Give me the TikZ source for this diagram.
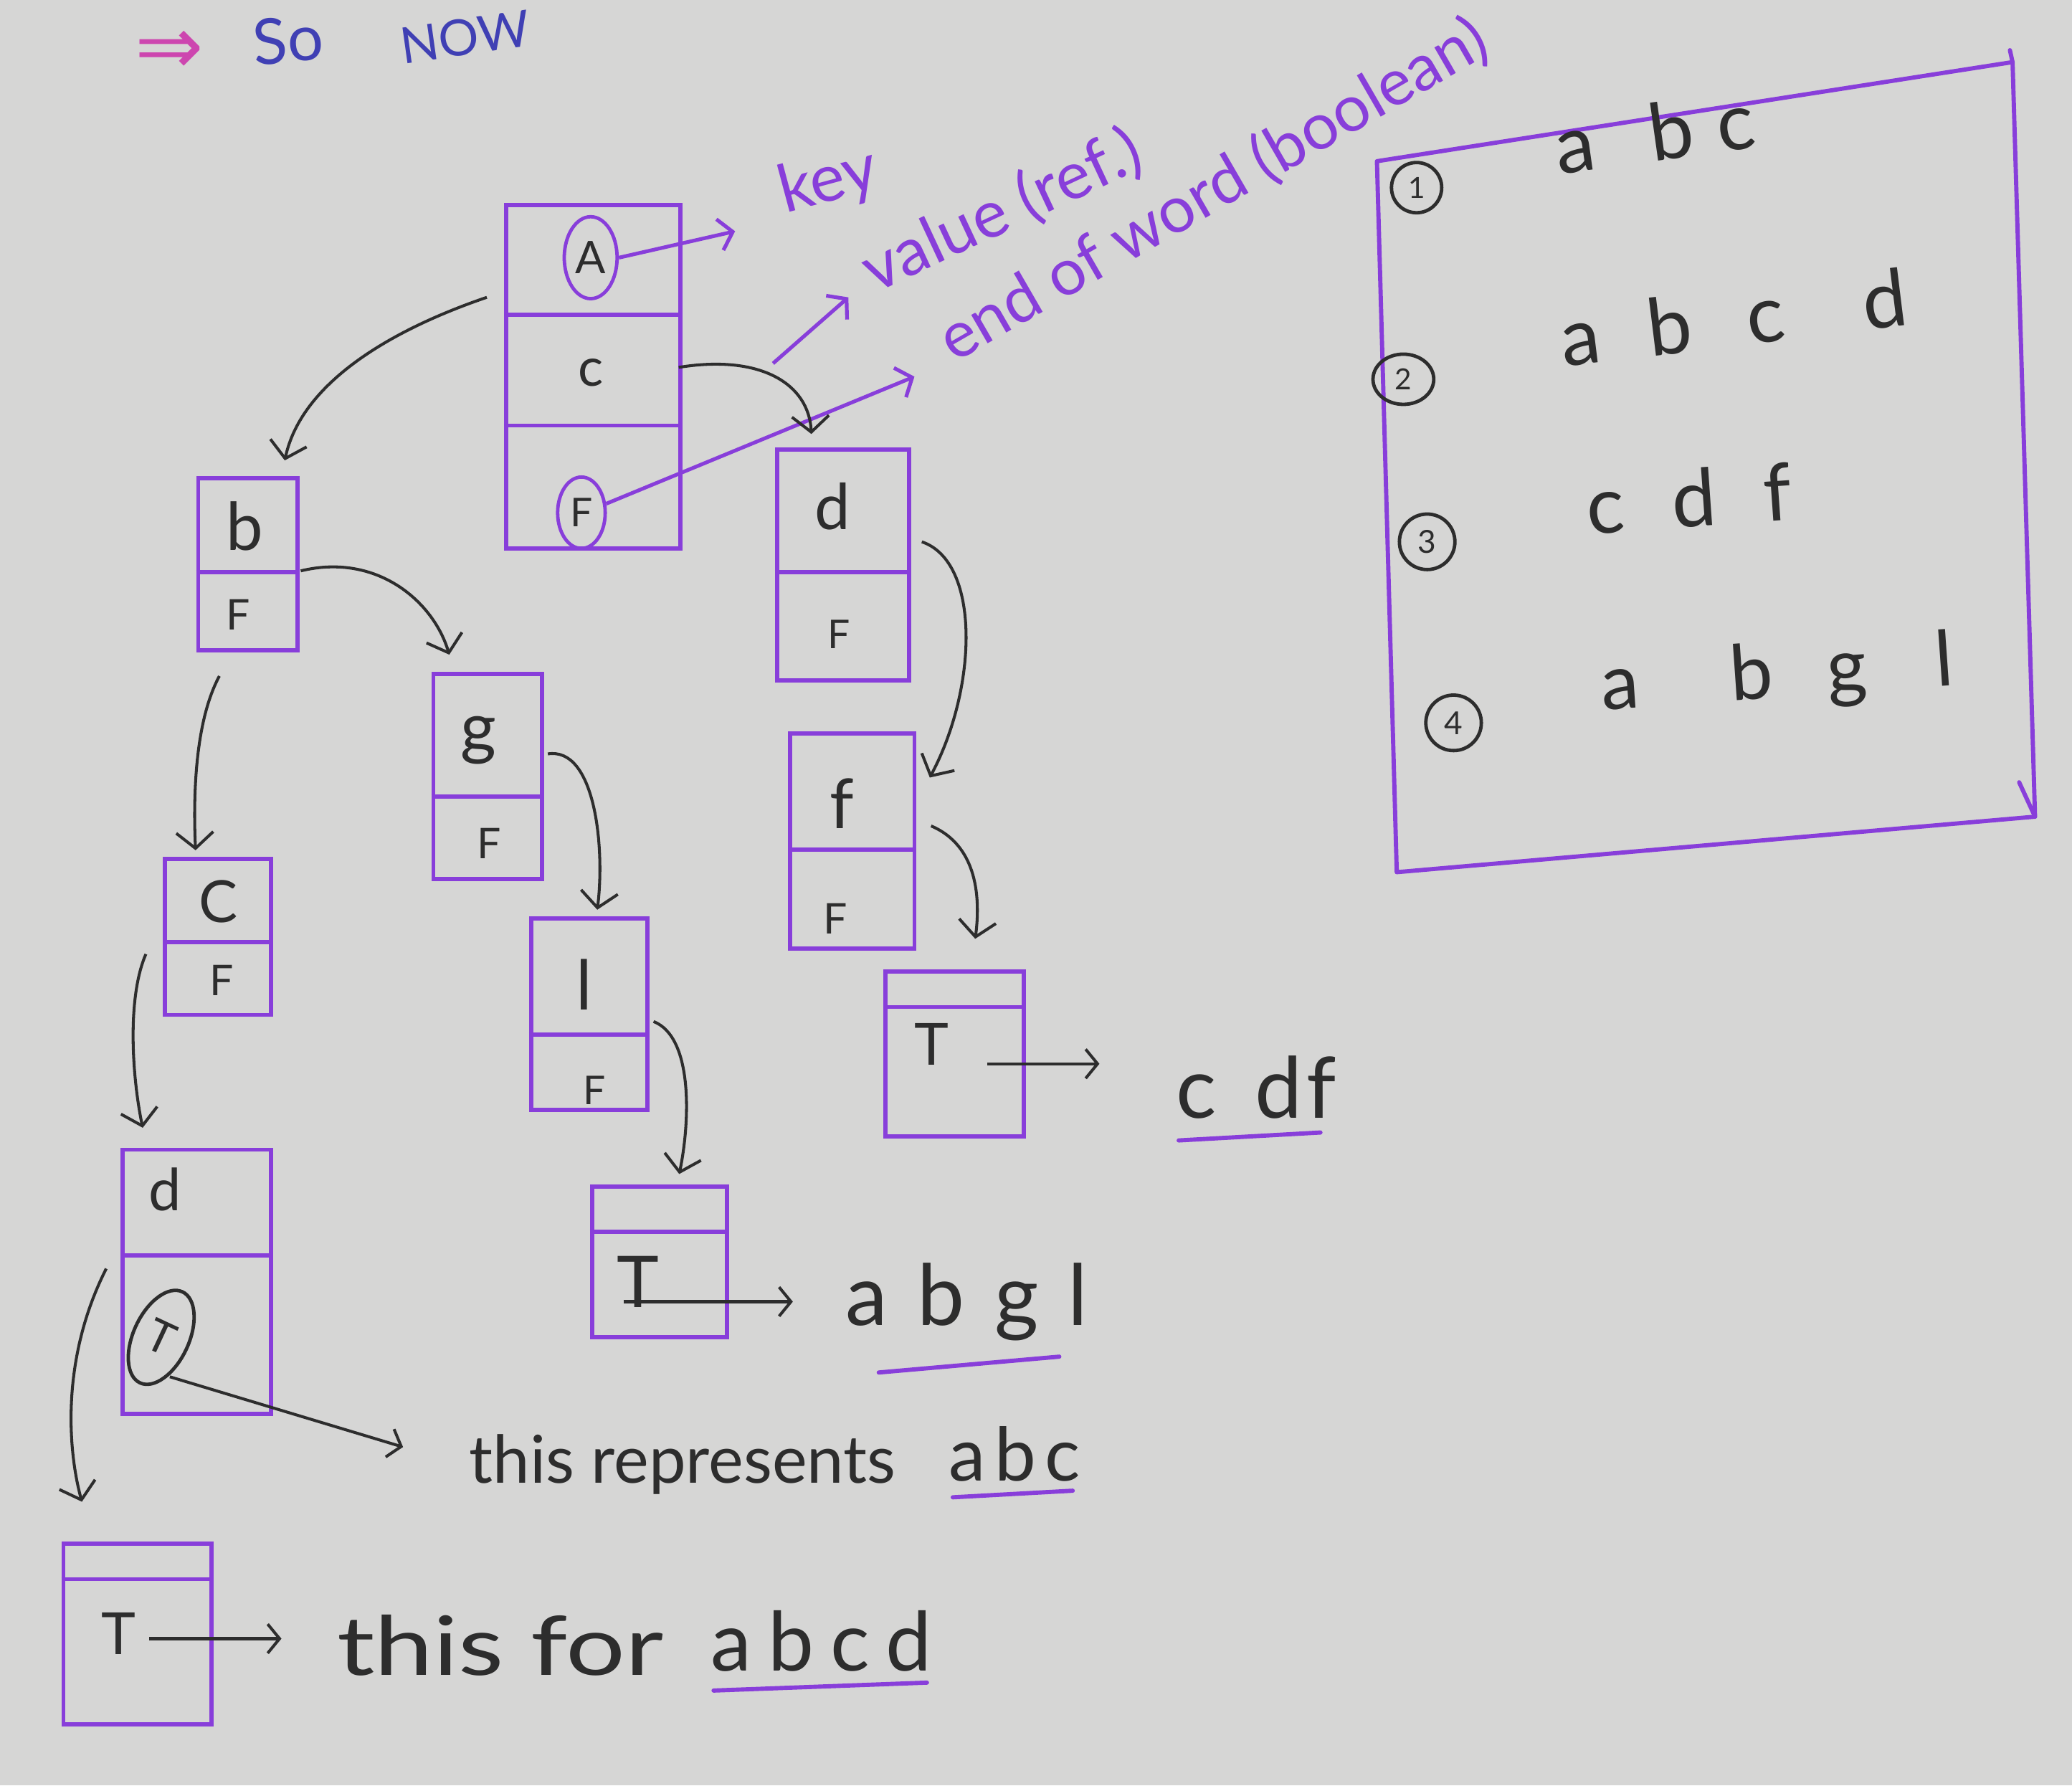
\documentclass[tikz,border=0pt]{standalone}
\usepackage{fontspec}
\setmainfont{Lato}
\newfontfamily\symfont{DejaVu Sans}
\usetikzlibrary{arrows.meta,calc,shapes.geometric}
\definecolor{ink}{RGB}{45,45,45}
\definecolor{vio}{RGB}{136,62,218}
\definecolor{blueink}{RGB}{64,64,180}
\definecolor{mag}{RGB}{205,70,175}
\definecolor{paper}{RGB}{214,214,213}
\newcommand\myfs[1]{\fontsize{#1}{#1}\selectfont}
\newcommand\divline[2]{\draw[divl] (#1.west |- 0,#2) -- (#1.east |- 0,#2);}
\begin{document}
\begin{tikzpicture}[x=1pt,y=-1pt,
  tbox/.style={draw=vio,line width=3.2pt,inner sep=0pt},
  divl/.style={draw=vio,line width=3.2pt},
  conn/.style={draw=ink,line width=2.2pt,-{Straight Barb[length=12pt,width=28pt,line width=2.2pt]}},
  sarr/.style={draw=ink,line width=2.2pt,-{Straight Barb[length=9pt,width=22pt,line width=2.2pt]}},
  varr/.style={draw=vio,line width=2.8pt,-{Straight Barb[length=10pt,width=24pt,line width=2.8pt]}},
  ulin/.style={draw=vio,line width=3.2pt,line cap=round},
  ltr/.style={text=ink,inner sep=0pt},
  vtxt/.style={text=vio,inner sep=0pt},
  circ/.style={ellipse,draw=#1,line width=2.6pt,inner sep=0pt,text=ink},
]
\fill[paper] (0,0) rectangle (1568,1351);
\useasboundingbox (0,0) rectangle (1568,1351);

% heading
\node[text=mag,inner sep=0pt,font=\symfont\myfs{62}] (dbl) at (128,40) {⇒};
\node[text=blueink,inner sep=0pt,font=\myfs{48},rotate=5] (so) at (218,30) {So};
\node[text=blueink,inner sep=0pt,font=\myfs{38},rotate=8] (now) at (352,28) {NOW};

% root node
\node[tbox,minimum width=132pt,minimum height=260pt] (root) at (449,285) {};
\divline{root}{238}
\divline{root}{322}
\node[circ=vio,minimum width=40pt,minimum height=62pt,font=\myfs{34}] (rootA) at (447,195) {A};
\node[ltr,font=\myfs{40}] (rootc) at (447,282) {c};
\node[circ=vio,minimum width=36pt,minimum height=54pt,font=\myfs{30}] (rootF) at (440,388) {F};

% annotations
\node[vtxt,font=\myfs{50},rotate=15] (key) at (627,138) {key};
\draw[varr] (rootA.east) -- ($(rootA.east)+(88,-20)$);
\node[vtxt,font=\myfs{50},rotate=25,anchor=base west] (val) at (662,222) {value (ref.)};
\draw[varr] ($(val.base west)+(-77,53)$) -- ($(val.base west)+(-20,3)$);
\node[vtxt,font=\myfs{49},rotate=30,anchor=base west] (eow) at (722,275) {end of word (boolean)};
\draw[varr] (rootF.20) -- ($(eow.base west)+(-30,10)$);

% word list panel
\draw[vio,line width=3.2pt,line join=round] (1042,122) -- (1523,47) -- (1540,618) -- (1057,660) -- cycle;
\draw[vio,line width=3.2pt,line cap=round] (1523,47) -- (1521,38);
\draw[vio,line width=3.2pt,line cap=round] (1540,618) -- (1528,592);
\node[circ=ink,minimum width=38pt,minimum height=38pt,font=\myfs{22}] (n1) at (1072,142) {1};
\node[ltr,font=\myfs{60},rotate=8] (w1) at (1252,100) {a\hspace{0.7em}b\hspace{0.3em}c};
\node[circ=ink,minimum width=46pt,minimum height=38pt,font=\myfs{22}] (n2) at (1062,287) {2};
\node[ltr,font=\myfs{60},rotate=7] (w2) at (1312,240) {a\hspace{0.6em}b\hspace{0.7em}c\hspace{1.0em}d};
\node[circ=ink,minimum width=42pt,minimum height=42pt,font=\myfs{24}] (n3) at (1080,410) {3};
\node[ltr,font=\myfs{60},rotate=4] (w3) at (1278,377) {c\hspace{0.6em}d\hspace{0.6em}f};
\node[circ=ink,minimum width=42pt,minimum height=42pt,font=\myfs{24}] (n4) at (1100,547) {4};
\node[ltr,font=\myfs{58},rotate=4] (w4) at (1345,512) {a\hspace{1.2em}b\hspace{0.7em}g\hspace{0.9em}l};

% trie nodes
\node[tbox,minimum width=75pt,minimum height=130pt] (b) at (187.5,427) {};
\divline{b}{433}
\node[ltr,font=\myfs{50}] (bk) at (185,398) {b};
\node[ltr,font=\myfs{32}] (bf) at (180,465) {F};

\node[tbox,minimum width=82pt,minimum height=155pt] (g) at (369,587.5) {};
\divline{g}{603}
\node[ltr,font=\myfs{52}] (gk) at (362,560) {g};
\node[ltr,font=\myfs{32}] (gf) at (370,638) {F};

\node[tbox,minimum width=80pt,minimum height=118pt] (c) at (165,709) {};
\divline{c}{713}
\node[ltr,font=\myfs{44}] (ck) at (165,682) {C};
\node[ltr,font=\myfs{32}] (cf) at (168,742) {F};

\node[tbox,minimum width=88pt,minimum height=145pt] (l) at (446,767.5) {};
\divline{l}{783}
\node[ltr,font=\myfs{52}] (lk) at (442,745) {l};
\node[ltr,font=\myfs{30}] (lf) at (450,825) {F};

\node[tbox,minimum width=112pt,minimum height=200pt] (dL) at (149,970) {};
\divline{dL}{950}
\node[ltr,font=\myfs{44}] (dLk) at (125,900) {d};
\node[circ=ink,minimum width=42pt,minimum height=76pt,rotate=-25,font=\myfs{34}] (dLT) at (122,1012) {T};

\node[tbox,minimum width=112pt,minimum height=137pt] (TL) at (104,1236.5) {};
\divline{TL}{1195}
\node[ltr,font=\myfs{44}] (TLk) at (90,1236) {T};

\node[tbox,minimum width=102pt,minimum height=114pt] (TM) at (499,955) {};
\divline{TM}{932}
\node[ltr,font=\myfs{54}] (TMk) at (483,970) {T};

\node[tbox,minimum width=100pt,minimum height=175pt] (dR) at (638,427.5) {};
\divline{dR}{433}
\node[ltr,font=\myfs{48}] (dRk) at (630,383) {d};
\node[ltr,font=\myfs{30}] (dRf) at (635,480) {F};

\node[tbox,minimum width=94pt,minimum height=163pt] (f) at (645,636.5) {};
\divline{f}{643}
\node[ltr,font=\myfs{52}] (fk) at (637,608) {f};
\node[ltr,font=\myfs{32}] (ff) at (632,695) {F};

\node[tbox,minimum width=105pt,minimum height=125pt] (TR) at (722.5,797.5) {};
\divline{TR}{762}
\node[ltr,font=\myfs{44}] (TRk) at (705,790) {T};

% connectors between trie nodes
\draw[conn] ($(root.west)+(-13,-60)$) .. controls (295,250) and (228,290) .. ($(b.north)+(28,-12)$);
\draw[conn] ($(root.east)+(-3,-7)$) .. controls (575,268) and (612,290) .. ($(dR.north)+(-24,-10)$);
\draw[conn] ($(b.east)+(1,5)$) .. controls (285,418) and (328,455) .. ($(g.north)+(-29,-13)$);
\draw[conn] ($(b.south)+(-21.5,18)$) .. controls (148,545) and (146,600) .. ($(c.north)+(-17,-5)$);
\draw[conn] ($(c.west)+(-13,13)$) .. controls (96,755) and (100,815) .. ($(dL.north)+(-41,-15)$);
\draw[conn] ($(dL.west)+(-11,-10)$) .. controls (45,1030) and (52,1100) .. ($(TL.north)+(-42,-30)$);
\draw[conn] ($(g.east)+(3,-17)$) .. controls (450,565) and (458,640) .. ($(l.north)+(6,-5)$);
\draw[conn] ($(l.east)+(3,5.5)$) .. controls (525,785) and (522,850) .. ($(TM.north)+(15,-8)$);
\draw[conn] ($(dR.east)+(8,-17.5)$) .. controls (742,425) and (740,520) .. ($(f.north east)+(10,35)$);
\draw[conn] ($(f.east)+(11,-11.5)$) .. controls (740,640) and (742,680) .. ($(TR.north)+(15.5,-23)$);

% word labels
\node[ltr,font=\myfs{64},anchor=west] (cdf) at (890,823) {c\hspace{0.45em}d\hspace{0.05em}f};
\draw[ulin] ($(cdf.south west)+(2,16)$) -- ($(cdf.south east)+(-12,10)$);
\draw[sarr] ($(TR.center)+(24.5,7.5)$) -- ($(cdf.west)+(-58,-18)$);

\node[ltr,font=\myfs{64},anchor=west] (abgl) at (640,985) {a\hspace{0.35em}b\hspace{0.35em}g\hspace{0.35em}l};
\draw[ulin] ($(abgl.south west)+(25,24)$) -- ($(abgl.south east)+(-22,12)$);
\draw[sarr] ($(TM.center)+(-27,30)$) -- ($(abgl.west)+(-40,0)$);

\node[ltr,font=\myfs{50},anchor=west] (rep) at (355,1108) {this represents};
\node[ltr,font=\myfs{56},anchor=west] (abc) at (718,1100) {a\hspace{0.12em}b\hspace{0.12em}c};
\draw[ulin] ($(abc.south west)+(3,12)$) -- ($(abc.south east)+(-6,7)$);
\draw[sarr] ($(dLT.south east)+(4,-2)$) -- ($(rep.west)+(-50,-13)$);

\node[ltr,font=\myfs{62},anchor=west] (lblfor) at (255,1245) {\scalebox{1.28}[1]{this for}};
\node[ltr,font=\myfs{62},anchor=west] (abcd) at (538,1242) {a\hspace{0.2em}b\hspace{0.2em}c\hspace{0.2em}d};
\draw[ulin] ($(abcd.south west)+(2,14)$) -- ($(abcd.south east)+(-4,8)$);
\draw[sarr] ($(TL.center)+(9,3.5)$) -- ($(lblfor.west)+(-42,-5)$);
\end{tikzpicture}
\end{document}
